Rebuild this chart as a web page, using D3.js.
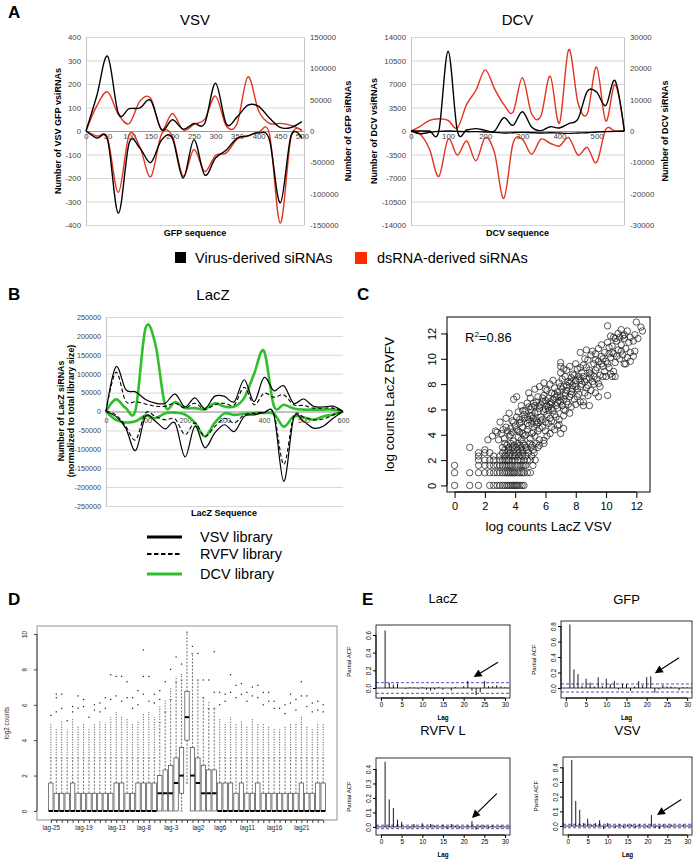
<!DOCTYPE html>
<html><head><meta charset="utf-8">
<script src="https://cdn.jsdelivr.net/npm/d3@7"></script>
<style>body{margin:0;background:#fff}svg{display:block}</style>
</head><body>
<script>
// ================= DATA =================
// Panel A – VSV (GFP sequence)
const gfpPos = [0,25,50,75,100,125,150,175,200,225,250,275,300,325,350,375,400,425,450,475,500];
const vsvVirusUp   = [0,150,318,75,95,98,130,5,48,8,32,32,203,30,60,110,105,55,15,15,40];
const vsvVirusDown = [0,-30,-38,-350,-51,-73,-134,-38,-30,-200,-38,-187,-115,-81,-30,-21,-8,-38,-306,-20,-30];
const vsvDsUp      = [0,40000,62500,26500,12000,47700,52000,2600,28000,1600,10600,18500,55700,8000,12000,86400,31800,12200,12200,9000,1600];
const vsvDsDown    = [0,-8000,-12000,-98000,-6000,-26000,-73000,-5000,-8000,-72000,-29500,-64500,-39000,-35000,-13000,-8000,-2000,-5000,-147000,-10000,0];
const vsvLeftTicks  = [-400,-300,-200,-100,0,100,200,300,400];
const vsvRightTicks = [-150000,-100000,-50000,0,50000,100000,150000];
const gfpXTicks = [0,50,100,150,200,250,300,350,400,450,500];

// Panel A – DCV
const dcvPos = [0,25,50,75,100,125,150,175,200,225,250,275,300,325,350,375,400,425,450,475,500,525,550,575];
const dcvVirusUp   = [0,0,0,0,11870,0,150,350,100,0,1980,840,2870,600,50,640,450,1100,1800,5900,5800,3800,7500,0];
const dcvVirusDown = [0,-400,-200,-50,0,-50,-100,-100,-150,-200,-300,-250,-200,-250,-300,-250,-300,-350,-300,-250,-150,-100,-50,0];
const dcvDsUp      = [0,1500,3400,3900,3400,1000,8500,13000,19500,13500,8500,6000,17000,5500,4800,17500,2500,26000,9000,5500,20400,3200,14800,0];
const dcvDsDown    = [0,-1000,-5800,-14500,-2600,-7700,-3200,-9500,-2100,-6900,-21500,-3900,-2600,-7400,-2600,-3900,-4800,-2100,-7700,-5300,-10000,500,0,0];
const dcvLeftTicks  = [-14000,-10500,-7000,-3500,0,3500,7000,10500,14000];
const dcvRightTicks = [-30000,-20000,-10000,0,10000,20000,30000];
const dcvXTicks = [0,100,200,300,400,500];

// Panel B – LacZ
const lacPos = [0,25,50,75,100,125,150,175,200,225,250,275,300,325,350,375,400,425,450,475,500,525,550,575,600];
const lacVsvUp    = [0,118000,58000,52000,32000,22000,22000,46000,12000,36000,8000,40000,40000,26000,84000,26000,90000,55000,68000,22000,33000,14000,12000,14000,0];
const lacRvfvUp   = [0,104000,27000,26000,20000,14000,14000,22000,9000,22000,5000,18000,22000,18000,64000,18000,48000,38000,44000,18000,16000,9000,9000,9000,0];
const lacDcvUp    = [0,32000,9000,5000,220000,178000,15000,25000,9000,9000,6000,22000,13000,13000,36000,100000,160000,15000,18000,8000,5000,5000,5000,5000,0];
const lacVsvDown  = [0,-13000,-44000,-103000,-13000,-26000,-46000,-31000,-120000,-39000,-96000,-57000,-35000,-53000,-13000,-9000,-3000,-9000,-185000,-18000,-26000,-44000,-39000,-18000,0];
const lacRvfvDown = [0,-9000,-39000,-75000,-4400,-13000,-22000,-20000,-61000,-30000,-66000,-40000,-18000,-30000,-9000,-5000,-2000,-5000,-140000,-13000,-15000,-22000,-20000,-9000,0];
const lacDcvDown  = [0,-22000,-29000,-26000,-11000,-18000,-4400,-3000,-8000,-30000,-66000,-30000,-5000,-9000,-6000,-4000,-4000,-6000,-40000,-13000,-15000,-22000,-13000,-8000,0];
const lacYTicks = [-250000,-200000,-150000,-100000,-50000,0,50000,100000,150000,200000,250000];
const lacXTicks = [0,100,200,300,400,500,600];

// Panel C – log counts [LacZ VSV, LacZ RVFV]
const logCountPairs = [
[0,0],[1,0],[1.58,0],[2.32,0],[2.58,0],[2.81,0],[3,0],[3.17,0],[3.32,0],[3.46,0],[3.58,0],[3.7,0],[3.81,0],[3.91,0],[4,0],[4.09,0],[4.17,0],[4.32,0],[4.46,0],[4.58,0],
[0,1],[1,1],[1.58,1],[2,1],[2.32,1],[2.58,1],[2.81,1],[3,1],[3.17,1],[3.32,1],[3.46,1],[3.58,1],[3.7,1],[3.81,1],[3.91,1],[4,1],[4.17,1],[4.32,1],[4.46,1],[4.58,1],[4.81,1],[5,1],
[0,1.58],[1.58,1.58],[2,1.58],[2.32,1.58],[2.58,1.58],[2.81,1.58],[3,1.58],[3.17,1.58],[3.32,1.58],[3.46,1.58],[3.58,1.58],[3.7,1.58],[3.81,1.58],[4,1.58],[4.17,1.58],[4.32,1.58],[4.46,1.58],[4.58,1.58],[4.7,1.58],[5.17,1.58],
[1.58,2],[2,2],[2.32,2],[2.58,2],[3,2],[3.17,2],[3.32,2],[3.46,2],[3.58,2],[3.81,2],[4,2],[4.17,2],[4.32,2],[4.58,2],[4.81,2],[5,2],[5.32,2],
[1.58,2.32],[2.58,2.32],[3,2.32],[3.32,2.32],[3.58,2.32],[3.81,2.32],[4,2.32],[4.25,2.32],[4.46,2.32],[4.7,2.32],[5.09,2.32],
[1.58,2.58],[2,2.58],[2.32,2.58],[3.17,2.58],[3.46,2.58],[3.7,2.58],[4,2.58],[4.25,2.58],[4.52,2.58],[4.86,2.58],[5.25,2.58],
[2,2.81],[3.32,2.81],[3.58,2.81],[3.91,2.81],[4.17,2.81],[4.46,2.81],[4.75,2.81],[5.2,2.81],
[1,3],[3.17,3],[3.58,3],[3.81,3],[4.09,3],[4.39,3],[4.7,3],[5.04,3],[5.5,3],
[3.46,3.17],[3.91,3.17],[4.32,3.17],[4.64,3.17],[5.13,3.17],[5.6,3.17],
[3.32,3.32],[3.7,3.32],[4.17,3.32],[4.52,3.32],[4.95,3.32],[5.4,3.32],[5.9,3.32],
[2.9,3.6],[3.3,3.7],[3.6,3.9],[3.9,3.5],[4.2,3.8],[4.4,3.6],[4.7,4.0],[5.0,3.7],[5.3,3.9],[3.1,4.1],[3.5,4.3],[3.8,4.2],[4.1,4.4],[4.5,4.1],[4.8,4.4],[5.2,4.2],[5.6,4.5],[6.0,4.3],[6.3,4.1],[6.6,4.4],[2.7,4.3],[3.4,4.6],[4.0,4.7],[4.3,4.9],[4.9,4.7],[5.4,4.8],[5.8,4.6],[6.2,4.9],[6.8,4.7],[5.9,3.55],[5.6,3.6],[6.1,3.9],[2.5,3.9],[2.2,3.6],[2.8,4.2],[7.0,4.1],[7.2,4.5],[6.9,4.8],
[3.0,5.0],[3.4,5.3],[3.8,5.1],[4.1,5.4],[4.4,5.0],[4.6,5.6],[4.9,5.2],[5.1,5.5],[5.4,5.1],[5.7,5.4],[6.0,5.0],[6.3,5.3],[6.6,5.6],[6.9,5.2],[7.2,5.5],[4.2,5.8],[4.7,5.9],[5.0,6.0],[5.3,5.7],[5.6,6.1],[5.9,5.8],[6.2,6.2],[6.5,5.9],[6.8,6.1],[7.3,5.9],[7.6,5.7],[3.6,5.7],[5.2,5.3],[5.5,4.95],[6.1,5.6],
[4.4,6.3],[4.8,6.5],[5.1,6.2],[5.4,6.6],[5.7,6.4],[6.0,6.7],[6.3,6.4],[6.5,6.8],[6.8,6.5],[7.1,6.3],[7.4,6.6],[7.7,6.2],[8.0,6.4],[5.0,6.9],[5.5,7.0],[5.9,7.1],[6.2,6.9],[6.6,7.2],[7.0,7.0],[7.3,7.3],[7.6,7.0],[7.9,6.8],[8.3,6.6],[8.5,6.3],[4.9,7.3],[6.4,6.1],[7.2,6.0],[6.1,7.5],[5.3,7.6],[3.9,6.8],[4.1,7.0],[8.9,6.3],[8.5,6.6],
[5.6,7.8],[6.0,7.6],[6.3,8.0],[6.6,7.7],[6.9,8.1],[7.2,7.8],[7.5,8.2],[7.8,7.9],[8.1,7.6],[8.4,8.0],[8.7,7.7],[9.0,7.5],[6.8,7.4],[7.4,7.5],[8.2,7.2],[8.8,7.1],[9.3,7.3],[9.5,7.0],[7.1,8.4],[7.7,8.5],[8.0,8.3],[8.5,8.6],[9.1,8.2],[6.5,8.3],[9.6,7.8],[8.6,7.3],[7.9,8.7],[5.9,8.1],[10.1,7.1],[9.5,8.05],
[7.0,8.9],[7.4,9.1],[7.8,8.8],[8.1,9.2],[8.4,8.9],[8.7,9.3],[9.0,8.8],[9.3,9.1],[9.6,8.7],[9.9,9.0],[8.2,8.6],[8.9,8.5],[9.4,8.4],[10.0,8.6],[10.3,8.8],[7.6,9.4],[8.0,9.6],[8.5,9.5],[9.2,9.6],[9.8,9.4],[10.2,9.3],[10.5,9.0],[10.6,8.6],[7.2,9.2],[8.8,9.9],[9.5,9.8],[10.4,8.6],[9.8,8.6],[7.0,9.7],[7.0,9.4],
[8.6,10.0],[9.0,10.3],[9.3,9.9],[9.7,10.2],[10.0,9.8],[10.3,10.1],[10.6,9.7],[10.9,10.0],[11.2,9.6],[9.1,10.6],[9.5,10.8],[9.9,10.5],[10.2,10.9],[10.5,10.4],[10.8,10.7],[11.1,10.3],[11.4,10.1],[9.7,11.1],[10.1,11.3],[10.4,11.0],[10.7,11.4],[11.0,11.1],[11.3,10.8],[11.6,10.5],[11.8,10.2],[11.5,11.3],[10.9,11.7],[11.2,11.6],[8.3,10.5],[8.7,10.7],[11.6,9.8],[11.9,10.6],[11.3,9.6],
[10.3,11.8],[10.8,12.0],[11.2,11.9],[11.6,11.7],[11.9,11.9],[11.4,12.2],[12.0,12.9],[12.3,12.5],[12.4,12.2],[10.1,12.6],[10.6,11.6],[11.0,12.3],[11.8,11.4],[12.1,11.6],[11.1,11.8],[10.5,11.7],
[4.5,4.6],[5.1,4.9],[4.6,5.3],[5.3,6.3],[5.8,6.6],[6.4,6.5],[6.7,7.0],[7.1,7.6],[7.6,8.1],[8.3,8.3],[8.0,7.8],[7.3,7.1],[6.2,5.9],[5.7,5.1],[4.8,4.9],[4.2,4.3],[3.7,4.0],[8.6,8.2],[8.9,8.9],[9.2,8.0],[7.7,7.4],[6.9,6.7],[6.1,6.3],[5.5,5.8],[5.0,5.5],
[3.2,4.4],[3.7,4.5],[4.3,4.2],[4.6,3.9],[5.1,4.1],[5.5,4.3],[6.4,4.6],[3.9,5.0],[4.3,5.2],[4.8,5.4],[5.3,5.0],[5.8,5.2],[6.4,5.1],[6.7,5.4],[4.5,5.9],[4.9,6.2],[5.2,6.5],[5.6,6.3],[6.0,6.0],[6.3,6.6],[6.7,6.3],[7.0,6.6],[7.5,6.4],[5.8,6.9],[6.4,7.3],[6.8,7.1],[7.2,6.8],[7.7,7.2],[8.1,7.0],[7.0,7.8],[7.4,7.9],[7.8,7.6],[8.3,7.8],[8.8,7.9],[7.3,8.6],[7.7,8.2],[8.2,8.4],[8.7,8.4],[9.2,8.6],[8.3,9.3],[8.9,9.1],[9.4,9.3],[9.7,9.6],[10.1,9.6],[9.3,10.4],[9.8,10.0],[10.4,10.5],[10.7,10.2],[11.0,10.6],[10.2,10.4]
];
const scatterTicks = [0,2,4,6,8,10,12];
const rSquared = "0.86";

// Panel D – boxplots of log2 counts by lag
const lagNames = ["lag-25","lag-24","lag-23","lag-22","lag-21","lag-20","lag-19","lag-18","lag-17","lag-16","lag-15","lag-14","lag-13","lag-12","lag-11","lag-10","lag-9","lag-8","lag-7","lag-6","lag-5","lag-4","lag-3","lag-2","lag-1","lag0","lag1","lag2","lag3","lag4","lag5","lag6","lag7","lag8","lag9","lag10","lag11","lag12","lag13","lag14","lag15","lag16","lag17","lag18","lag19","lag20","lag21","lag22","lag23","lag24","lag25"];
const shownLagLabels = ["lag-25","lag-19","lag-13","lag-8","lag-3","lag2","lag6","lag11","lag16","lag21"];
const boxQ1  = [0,0,0,0,0,0,0,0,0,0,0,0,0,0,0,0,0,0,0,0, 0,0,0,0,1,4,0,0,0,0,0, 0,0,0,0,0,0,0,0,0,0,0,0,0,0,0,0,0,0,0,0];
const boxMed = [0,0,0,0,0,0,0,0,0,0,0,0,0,0,0,0,0,0,0,0, 1,1,1,1.58,2,5.3,2,1.58,1,1,1, 0,0,0,0,0,0,0,0,0,0,0,0,0,0,0,0,0,0,0,0];
const boxQ3  = [1.58,1,1,1,1.58,1,1,1,1,1,1,1,1.58,1.58,1,1,1.58,1.58,1.58,1.58, 2,2.32,2.58,3,3.58,6.75,3.58,3,2.58,2.32,2.32, 1.58,1.58,1.58,1,1.58,1,1,1.58,1,1,1,1,1,1,1,1.58,1,1,1.58,1.58];
const whiskHi = [3,3,3,3,3,3,3,3,3,3,3,3,3,3,3,3,3,3,3,3, 5.0,5.6,6.3,7.3,7.4,10.1,8.9,7.4,6.4,5.8,5.8, 3,3,3,3,3,3,3,3,3,3,3,3,3,3,3,3,3,3,3,3];
const whiskLo = [0,0,0,0,0,0,0,0,0,0,0,0,0,0,0,0,0,0,0,0, 0,0,0,0,0,1.58,0,0,0,0,0, 0,0,0,0,0,0,0,0,0,0,0,0,0,0,0,0,0,0,0,0];
const outlierDenseTop = [4.9,4.7,5.1,4.6,5.2,4.8,5.0,4.7,4.9,5.1,5.0,5.3,5.6,5.4,5.2,5.0,5.1,5.5,5.6,5.3, 5.9,6.3,7.0,7.6,7.8,10.1,9.0,7.6,6.6,6.2,6.0, 5.2,5.0,5.3,4.9,5.1,4.8,5.2,5.0,4.9,4.8,4.7,4.6,4.8,5.0,4.9,5.4,4.8,4.7,5.0,4.9];
const outlierSparse = [[5.4],[5.6,6.4,6.6],[5.8,6.6],[5.1],[5.6,5.9],[5.8,6.5],[5.9,6.3],[5.3],[5.7,6.0],[5.6,6.1],[5.8,6.4],[6.3,7.7],[6.5,7.6],[6.2,7.6],[6.4,7.3],[5.8,6.4],[6.0,6.8],[6.6,7.6,9.1],[6.2,7.6],[6.1,6.6],
[6.3,6.8],[7.3],[8.0],[8.7],[8.3],[],[9.3],[8.9],[7.4],[7.4],[6.7,9.0],
[6.0,6.7],[6.2,6.6],[6.7,7.7],[6.4,7.1],[6.6,7.2],[6.2,6.7],[6.5,7.0],[6.4,7.1],[6.0,6.7],[6.2,6.7],[5.8,6.2],[5.8],[5.5,6.0],[6.1,6.6],[5.7,6.3],[6.5,7.3],[5.9,6.5],[5.6,6.1],[5.7,6.2],[5.6,6.0]];
const boxYTicks = [0,2,4,6,8,10];

// Panel E – partial autocorrelation, lags 1..30
const pacfLags = [1,2,3,4,5,6,7,8,9,10,11,12,13,14,15,16,17,18,19,20,21,22,23,24,25,26,27,28,29,30];
const pacfLacZ = [0.65,0.06,0.04,0.05,0.0,-0.01,0.01,0.005,-0.01,0.01,-0.02,-0.03,-0.02,0.01,-0.02,0.0,-0.03,0.01,0.0,0.02,0.08,-0.03,-0.08,-0.05,0.08,0.02,0.02,0.03,0.02,0.01];
const pacfGFP  = [0.82,0.24,0.18,0.03,0.12,0.07,0.02,0.14,0.03,0.12,0.05,0.09,-0.02,0.05,0.05,-0.04,0.02,0.09,0.04,0.14,0.15,-0.06,-0.02,0.04,0.02,0.02,0.01,-0.03,0.01,0.01];
const pacfRVFV = [0.45,0.19,0.13,0.05,0.035,0.0,-0.01,0.02,0.0,0.025,0.0,0.02,0.01,0.0,0.015,-0.01,0.02,0.01,-0.01,0.0,0.01,0.04,-0.02,0.01,0.01,-0.01,0.01,0.0,0.01,0.0];
const pacfVSV  = [0.45,0.17,0.11,0.02,0.05,0.01,0.02,0.04,-0.02,0.02,0.0,-0.01,0.01,-0.01,0.01,0.01,-0.01,0.01,0.0,-0.01,0.075,-0.01,-0.02,0.01,-0.01,0.01,0.0,0.0,0.01,0.0];
const pacfCI = {LacZ:0.06, GFP:0.052, RVFV:0.012, VSV:0.012};
const acfXTicks = [0,5,10,15,20,25,30];

// ================= DRAWING =================
const FONT = "'Liberation Sans', Arial, Helvetica, sans-serif";
const RED = "#e3321f", GREEN = "#2fbf2a";
const svg = d3.select("body").append("svg").attr("width",697).attr("height",863)
  .style("font-family", FONT);

function label(x, y, s, size, o = {}) {
  const t = svg.append("text").attr("x", x).attr("y", y).text(s)
    .attr("font-size", size).attr("text-anchor", o.anchor || "start")
    .attr("font-weight", o.weight || "normal").attr("fill", o.fill || "#000");
  if (o.rotate) t.attr("transform", `rotate(${o.rotate},${x},${y})`).attr("dominant-baseline", "central");
  return t;
}
const fmtInt = d => String(d);

// ---------- Panel A ----------
function dualPanel(o) {
  const x = d3.scaleLinear().domain(o.xDom).range([o.left, o.right]);
  const yL = d3.scaleLinear().domain([o.lTicks[0], o.lTicks[o.lTicks.length-1]]).range([o.bottom, o.top]);
  const yR = d3.scaleLinear().domain([o.rTicks[0], o.rTicks[o.rTicks.length-1]]).range([o.bottom, o.top]);
  const grid = svg.append("g").attr("transform", `translate(${o.left},0)`)
    .call(d3.axisLeft(yL).tickValues(o.lTicks).tickSize(-(o.right - o.left)).tickFormat(""));
  grid.select(".domain").remove();
  grid.selectAll("line").attr("stroke", "#d6d6d6").attr("stroke-width", 1);
  const gl = svg.append("g").attr("transform", `translate(${o.left},0)`)
    .call(d3.axisLeft(yL).tickValues(o.lTicks).tickSize(0).tickPadding(5).tickFormat(fmtInt));
  gl.select(".domain").attr("stroke", "#c4c4c4");
  gl.selectAll("text").attr("font-size", 7.8).attr("fill", "#444").attr("font-family", FONT);
  const gr = svg.append("g").attr("transform", `translate(${o.right},0)`)
    .call(d3.axisRight(yR).tickValues(o.rTicks).tickSize(0).tickPadding(6).tickFormat(fmtInt));
  gr.select(".domain").attr("stroke", "#c4c4c4");
  gr.selectAll("text").attr("font-size", 7.8).attr("fill", "#444").attr("font-family", FONT);
  const gx = svg.append("g").attr("transform", `translate(0,${yL(0)})`)
    .call(d3.axisBottom(x).tickValues(o.xTicks).tickSize(0).tickPadding(2).tickFormat(fmtInt));
  gx.select(".domain").attr("stroke", "#9a9a9a");
  gx.selectAll("text").attr("font-size", 7.8).attr("fill", "#444").attr("font-family", FONT);
  const mk = (yS) => d3.line().x((d, i) => x(o.pos[i])).y(d => yS(d)).curve(d3.curveCardinal.tension(0));
  [[o.dsUp, yR, RED], [o.dsDown, yR, RED], [o.vUp, yL, "#000"], [o.vDown, yL, "#000"]].forEach(([arr, s, c]) => {
    svg.append("path").datum(arr).attr("d", mk(s)).attr("fill", "none").attr("stroke", c).attr("stroke-width", 1.4);
  });
  label((o.left + o.right) / 2, 25, o.title, 15, {anchor: "middle"});
  label(o.lTitleX, (o.top + o.bottom) / 2, o.lTitle, 9, {anchor: "middle", weight: "bold", rotate: -90});
  label(o.rTitleX, (o.top + o.bottom) / 2, o.rTitle, 9, {anchor: "middle", weight: "bold", rotate: -90});
  label((o.left + o.right) / 2, 236, o.xTitle, 9, {anchor: "middle", weight: "bold"});
}
dualPanel({left: 86, right: 304, top: 37, bottom: 225, xDom: [0, 505], pos: gfpPos,
  lTicks: vsvLeftTicks, rTicks: vsvRightTicks, xTicks: gfpXTicks,
  vUp: vsvVirusUp, vDown: vsvVirusDown, dsUp: vsvDsUp, dsDown: vsvDsDown,
  title: "VSV", lTitle: "Number of VSV GFP vsiRNAs", lTitleX: 58, rTitle: "Number of GFP siRNAs", rTitleX: 348, xTitle: "GFP sequence"});
dualPanel({left: 411, right: 624, top: 37, bottom: 225, xDom: [0, 574], pos: dcvPos,
  lTicks: dcvLeftTicks, rTicks: dcvRightTicks, xTicks: dcvXTicks,
  vUp: dcvVirusUp, vDown: dcvVirusDown, dsUp: dcvDsUp, dsDown: dcvDsDown,
  title: "DCV", lTitle: "Number of DCV vsiRNAs", lTitleX: 374, rTitle: "Number of DCV siRNAs", rTitleX: 665, xTitle: "DCV sequence"});
label(8, 18, "A", 17, {weight: "bold"});
// legend A
svg.append("rect").attr("x", 175).attr("y", 252).attr("width", 11).attr("height", 11).attr("fill", "#000");
label(195, 263, "Virus-derived siRNAs", 14.5);
svg.append("rect").attr("x", 355).attr("y", 252).attr("width", 12).attr("height", 12).attr("fill", "#ff2a00");
label(377, 263, "dsRNA-derived siRNAs", 14.5);

// ---------- Panel B ----------
(function () {
  const L = 106, R = 343, T = 317, B = 506;
  const x = d3.scaleLinear().domain([0, 600]).range([L, R]);
  const y = d3.scaleLinear().domain([-250000, 250000]).range([B, T]);
  const grid = svg.append("g").attr("transform", `translate(${L},0)`)
    .call(d3.axisLeft(y).tickValues(lacYTicks).tickSize(-(R - L)).tickFormat(""));
  grid.select(".domain").remove();
  grid.selectAll("line").attr("stroke", "#d6d6d6");
  const gl = svg.append("g").attr("transform", `translate(${L},0)`)
    .call(d3.axisLeft(y).tickValues(lacYTicks).tickSize(0).tickPadding(5).tickFormat(fmtInt));
  gl.select(".domain").attr("stroke", "#c4c4c4");
  gl.selectAll("text").attr("font-size", 7.2).attr("fill", "#444").attr("font-family", FONT);
  const gx = svg.append("g").attr("transform", `translate(0,${y(0)})`)
    .call(d3.axisBottom(x).tickValues(lacXTicks).tickSize(0).tickPadding(6).tickFormat(fmtInt));
  gx.select(".domain").attr("stroke", "#9a9a9a");
  gx.selectAll("text").attr("font-size", 7.2).attr("fill", "#444").attr("font-family", FONT);
  const ln = d3.line().x((d, i) => x(lacPos[i])).y(d => y(d)).curve(d3.curveCardinal.tension(0));
  const series = [
    [lacDcvUp, GREEN, 2.6, null], [lacDcvDown, GREEN, 2.6, null],
    [lacRvfvUp, "#000", 1.1, "4,2.5"], [lacRvfvDown, "#000", 1.1, "4,2.5"],
    [lacVsvUp, "#000", 1.2, null], [lacVsvDown, "#000", 1.2, null]];
  series.forEach(([arr, c, w, dash]) => {
    const p = svg.append("path").datum(arr).attr("d", ln).attr("fill", "none").attr("stroke", c).attr("stroke-width", w);
    if (dash) p.attr("stroke-dasharray", dash);
  });
  label(8, 300, "B", 17, {weight: "bold"});
  label(213, 300, "LacZ", 15, {anchor: "middle"});
  label(61, 411, "Number of LacZ siRNAs", 8.8, {anchor: "middle", weight: "bold", rotate: -90});
  label(71, 411, "(normalized to total library size)", 8.8, {anchor: "middle", weight: "bold", rotate: -90});
  label(224, 516, "LacZ Sequence", 9, {anchor: "middle", weight: "bold"});
  // legend B
  const lg = [["VSV library", "#000", 3, null, 537], ["RVFV library", "#000", 2, "4.5,2.5", 554], ["DCV library", GREEN, 3, null, 574]];
  lg.forEach(([name, c, w, dash, yy]) => {
    const l = svg.append("line").attr("x1", 147).attr("x2", 182).attr("y1", yy).attr("y2", yy).attr("stroke", c).attr("stroke-width", w);
    if (dash) l.attr("stroke-dasharray", dash);
    label(200, yy + 5, name, 14.5);
  });
})();

// ---------- Panel C ----------
(function () {
  const L = 447, R = 650, T = 317, B = 492;
  const x = d3.scaleLinear().domain([-0.5, 12.9]).range([L, R]);
  const y = d3.scaleLinear().domain([-0.52, 13.3]).range([B, T]);
  svg.append("g").selectAll("circle").data(logCountPairs).join("circle")
    .attr("cx", d => x(d[0])).attr("cy", d => y(d[1])).attr("r", 3.2)
    .attr("fill", "none").attr("stroke", "#222").attr("stroke-width", 0.75);
  svg.append("rect").attr("x", L).attr("y", T).attr("width", R - L).attr("height", B - T)
    .attr("fill", "none").attr("stroke", "#000").attr("stroke-width", 1);
  const gx = svg.append("g").attr("transform", `translate(0,${B})`)
    .call(d3.axisBottom(x).tickValues(scatterTicks).tickSize(6).tickPadding(4).tickFormat(fmtInt));
  gx.select(".domain").attr("d", `M${x(0)},0H${x(12)}`).attr("stroke", "#000");
  gx.selectAll("line").attr("stroke", "#000");
  gx.selectAll("text").attr("font-size", 11).attr("fill", "#000").attr("font-family", FONT);
  const gy = svg.append("g").attr("transform", `translate(${L},0)`)
    .call(d3.axisLeft(y).tickValues(scatterTicks).tickSize(6).tickFormat(""));
  gy.select(".domain").attr("d", `M0,${y(0)}V${y(12)}`).attr("stroke", "#000");
  gy.selectAll("line").attr("stroke", "#000");
  gy.selectAll("g.tick").append("text").attr("x", -15).attr("y", 0).attr("transform", "rotate(-90,-15,0)")
    .attr("text-anchor", "middle").attr("dominant-baseline", "central").attr("font-size", 11).attr("fill", "#000")
    .attr("font-family", FONT).text(d => d);
  label((L + R) / 2, 531, "log counts LacZ VSV", 13.5, {anchor: "middle"});
  label(389, (T + B) / 2, "log counts LacZ RVFV", 13.5, {anchor: "middle", rotate: -90});
  const r2 = svg.append("text").attr("x", 465).attr("y", 342).attr("font-size", 13).attr("font-family", FONT);
  r2.append("tspan").text("R");
  r2.append("tspan").attr("font-size", 8).attr("dy", -5).text("2");
  r2.append("tspan").attr("dy", 5).text("=" + rSquared);
  label(357, 300, "C", 17, {weight: "bold"});
})();

// ---------- Panel D ----------
(function () {
  const L = 37, R = 337, T = 626, B = 820;
  const x = d3.scaleLinear().domain([-1.54, 53.54]).range([L, R]);
  const y = d3.scaleLinear().domain([-0.51, 10.45]).range([B, T]);
  const bw = x(0.8) - x(0);
  const idx = d3.range(1, lagNames.length + 1);
  const g = svg.append("g");
  idx.forEach((i, k) => {
    const cx = x(i);
    g.append("line").attr("x1", cx).attr("x2", cx).attr("y1", y(boxQ3[k])).attr("y2", y(whiskHi[k]))
      .attr("stroke", "#333").attr("stroke-width", 0.7).attr("stroke-dasharray", "2,1.5");
    g.append("line").attr("x1", cx - bw / 4).attr("x2", cx + bw / 4).attr("y1", y(whiskHi[k])).attr("y2", y(whiskHi[k]))
      .attr("stroke", "#333").attr("stroke-width", 0.7);
    if (whiskLo[k] < boxQ1[k]) {
      g.append("line").attr("x1", cx).attr("x2", cx).attr("y1", y(boxQ1[k])).attr("y2", y(whiskLo[k]))
        .attr("stroke", "#333").attr("stroke-width", 0.7).attr("stroke-dasharray", "2,1.5");
      g.append("line").attr("x1", cx - bw / 4).attr("x2", cx + bw / 4).attr("y1", y(whiskLo[k])).attr("y2", y(whiskLo[k]))
        .attr("stroke", "#333").attr("stroke-width", 0.7);
    }
    if (outlierDenseTop[k] > whiskHi[k] + 0.2) {
      g.append("line").attr("x1", cx).attr("x2", cx).attr("y1", y(whiskHi[k] + 0.15)).attr("y2", y(outlierDenseTop[k]))
        .attr("stroke", "#222").attr("stroke-width", 0.9).attr("stroke-dasharray", "0.9,1.6");
    }
    outlierSparse[k].forEach(v => {
      g.append("rect").attr("x", cx - 0.6).attr("y", y(v) - 0.6).attr("width", 1.2).attr("height", 1.2).attr("fill", "#111");
    });
    g.append("rect").attr("x", cx - bw / 2).attr("y", y(boxQ3[k])).attr("width", bw).attr("height", Math.max(0.5, y(boxQ1[k]) - y(boxQ3[k])))
      .attr("fill", "#fff").attr("stroke", "#444").attr("stroke-width", 0.7);
    g.append("line").attr("x1", cx - bw / 2).attr("x2", cx + bw / 2).attr("y1", y(boxMed[k])).attr("y2", y(boxMed[k]))
      .attr("stroke", "#000").attr("stroke-width", 2);
  });
  svg.append("rect").attr("x", L).attr("y", T).attr("width", R - L).attr("height", B - T)
    .attr("fill", "none").attr("stroke", "#777").attr("stroke-width", 0.8);
  const gx = svg.append("g").attr("transform", `translate(0,${B})`)
    .call(d3.axisBottom(x).tickValues(idx).tickSize(3).tickPadding(3)
      .tickFormat(i => shownLagLabels.includes(lagNames[i - 1]) ? lagNames[i - 1] : ""));
  gx.select(".domain").attr("d", `M${x(1)},0H${x(51)}`).attr("stroke", "#444");
  gx.selectAll("line").attr("stroke", "#444");
  gx.selectAll("text").attr("font-size", 6.3).attr("fill", "#222").attr("font-family", FONT);
  const gy = svg.append("g").attr("transform", `translate(${L},0)`)
    .call(d3.axisLeft(y).tickValues(boxYTicks).tickSize(3).tickFormat(""));
  gy.select(".domain").attr("d", `M0,${y(0)}V${y(10)}`).attr("stroke", "#444");
  gy.selectAll("line").attr("stroke", "#444");
  gy.selectAll("g.tick").append("text").attr("x", -13).attr("y", 0).attr("transform", "rotate(-90,-13,0)")
    .attr("text-anchor", "middle").attr("dominant-baseline", "central").attr("font-size", 6.3).attr("fill", "#222")
    .attr("font-family", FONT).text(d => d);
  label(6, (T + B) / 2, "log2 counts", 6.3, {anchor: "middle", rotate: -90, fill: "#222"});
  label(8, 605, "D", 17, {weight: "bold"});
})();

// ---------- Panel E ----------
function acfPanel(o) {
  const x = d3.scaleLinear().domain([-1.2, 31.2]).range([o.left, o.right]);
  const y = d3.scaleLinear().domain(o.yDom).range([o.bottom, o.top]);
  const g = svg.append("g");
  g.append("line").attr("x1", o.left).attr("x2", o.right).attr("y1", y(0)).attr("y2", y(0)).attr("stroke", "#000").attr("stroke-width", 0.8);
  [o.ci, -o.ci].forEach(c => g.append("line").attr("x1", o.left).attr("x2", o.right).attr("y1", y(c)).attr("y2", y(c))
    .attr("stroke", "#3c3cc8").attr("stroke-width", 0.9).attr("stroke-dasharray", "3,2"));
  g.selectAll("line.spike").data(o.values).join("line").attr("class", "spike")
    .attr("x1", (d, i) => x(pacfLags[i])).attr("x2", (d, i) => x(pacfLags[i]))
    .attr("y1", y(0)).attr("y2", d => y(d)).attr("stroke", "#000").attr("stroke-width", 0.9);
  g.append("rect").attr("x", o.left).attr("y", o.top).attr("width", o.right - o.left).attr("height", o.bottom - o.top)
    .attr("fill", "none").attr("stroke", "#000").attr("stroke-width", 0.8);
  const gx = svg.append("g").attr("transform", `translate(0,${o.bottom})`)
    .call(d3.axisBottom(x).tickValues(acfXTicks).tickSize(3).tickPadding(2).tickFormat(fmtInt));
  gx.select(".domain").attr("d", `M${x(0)},0H${x(30)}`);
  gx.selectAll("text").attr("font-size", 6.3).attr("font-family", FONT);
  const gy = svg.append("g").attr("transform", `translate(${o.left},0)`)
    .call(d3.axisLeft(y).tickValues(o.yTicks).tickSize(3).tickFormat(""));
  gy.select(".domain").attr("d", `M0,${y(o.yTicks[0])}V${y(o.yTicks[o.yTicks.length - 1])}`);
  gy.selectAll("g.tick").append("text").attr("x", -8).attr("y", 0).attr("transform", "rotate(-90,-8,0)")
    .attr("text-anchor", "middle").attr("dominant-baseline", "central").attr("font-size", 6.3).attr("fill", "#000")
    .attr("font-family", FONT).text(d => d3.format(".1f")(d));
  label((o.left + o.right) / 2, o.bottom + 22, "Lag", 6.3, {anchor: "middle", weight: "bold"});
  label(o.left - 27, (o.top + o.bottom) / 2, "Partial ACF", 6, {anchor: "middle", rotate: -90});
  label((o.left + o.right) / 2, o.titleY, o.title, 13, {anchor: "middle"});
  const x1 = x(o.arrow[0]), y1 = y(o.arrow[1]), x2 = x(o.arrow[2]), y2 = y(o.arrow[3]);
  const ang = Math.atan2(y2 - y1, x2 - x1), hl = 8, hw = 4;
  const bx = x2 - hl * Math.cos(ang), by = y2 - hl * Math.sin(ang);
  g.append("line").attr("x1", x1).attr("y1", y1).attr("x2", bx).attr("y2", by).attr("stroke", "#000").attr("stroke-width", 1.2);
  g.append("path").attr("d", `M${x2},${y2}L${bx + hw * Math.sin(ang)},${by - hw * Math.cos(ang)}L${bx - hw * Math.sin(ang)},${by + hw * Math.cos(ang)}Z`).attr("fill", "#000");
}
acfPanel({left: 376, right: 510, top: 625, bottom: 698, yDom: [-0.113, 0.712], yTicks: [0, 0.2, 0.4, 0.6],
  values: pacfLacZ, ci: pacfCI.LacZ, title: "LacZ", titleY: 603, arrow: [28.3, 0.29, 22.4, 0.124]});
acfPanel({left: 561, right: 692, top: 621, bottom: 698, yDom: [-0.129, 0.865], yTicks: [0, 0.2, 0.4, 0.6, 0.8],
  values: pacfGFP, ci: pacfCI.GFP, title: "GFP", titleY: 604, arrow: [28, 0.39, 22, 0.19]});
acfPanel({left: 376, right: 510, top: 758, bottom: 835, yDom: [-0.056, 0.476], yTicks: [0, 0.1, 0.2, 0.3, 0.4],
  values: pacfRVFV, ci: pacfCI.RVFV, title: "RVFV L", titleY: 735, arrow: [28, 0.23, 22, 0.062]});
acfPanel({left: 563, right: 692, top: 757, bottom: 835, yDom: [-0.061, 0.47], yTicks: [0, 0.1, 0.2, 0.3, 0.4],
  values: pacfVSV, ci: pacfCI.VSV, title: "VSV", titleY: 735, arrow: [28.5, 0.18, 22.4, 0.075]});
label(362, 605, "E", 17, {weight: "bold"});
</script>
</body></html>
